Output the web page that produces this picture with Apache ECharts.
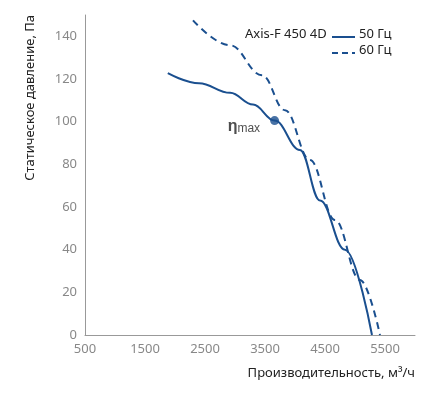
<!DOCTYPE html>
<html><head><meta charset="utf-8">
<script src="https://cdn.jsdelivr.net/npm/echarts@6/dist/echarts.min.js"></script>
<style>html,body{margin:0;padding:0;background:#fff}#c{width:444px;height:403px}</style>
</head><body><div id="c"></div>
<script>
const s50 = [[1880,122.7],[2400,118],[2920,113.5],[3300,108],[3660,100.5],[4083,86.7],[4417,63],[4833,40],[5283,0]];
const s60 = [[2300,147.5],[2917,135.8],[3450,121.8],[3833,105.4],[4250,82],[4667,53.9],[5083,25.8],[5417,0]];
const etaPoint = [[3660,100.5]];
const names = ['50 Гц','60 Гц'];
const color = '#1a4f8f';
const font = '13px Noto Sans';
const ch = echarts.init(document.getElementById('c'));
ch.setOption({
  animation:false,
  grid:{left:85,right:29,top:15,bottom:68,containLabel:false,outerBoundsMode:'none'},
  graphic:[
    {type:'text',left:245,top:28,style:{text:'Axis-F 450 4D',font,fill:'#222'}},
    {type:'line',shape:{x1:332,y1:37,x2:355,y2:37},style:{stroke:color,lineWidth:2}},
    {type:'text',left:359,top:28,style:{text:names[0],font,fill:'#222'}},
    {type:'line',shape:{x1:332,y1:53,x2:355,y2:53},style:{stroke:color,lineWidth:2,lineDash:[6,4]}},
    {type:'text',left:359,top:44,style:{text:names[1],font,fill:'#222'}}
  ],
  xAxis:{type:'value',min:500,max:6000,interval:1000,
    name:'Производительность, м³/ч',nameLocation:'end',nameGap:0,
    nameTextStyle:{fontFamily:'Noto Sans',fontSize:13,color:'#222',align:'right',verticalAlign:'top',padding:[32,0,0,0]},
    axisLine:{lineStyle:{color:'#999'}},axisTick:{show:false},splitLine:{show:false},
    axisLabel:{showMaxLabel:false,color:'#888',fontFamily:'Noto Sans',fontSize:13,formatter:v=>String(v)}},
  yAxis:{type:'value',min:0,max:150,interval:20,
    name:'Статическое давление, Па',nameLocation:'end',nameRotate:90,nameGap:0,
    nameTextStyle:{fontFamily:'Noto Sans',fontSize:13,color:'#222',align:'right',verticalAlign:'bottom',padding:[0,0,48,0]},
    axisLine:{show:true,lineStyle:{color:'#999'}},axisTick:{show:false},splitLine:{show:false},
    axisLabel:{showMaxLabel:false,color:'#888',fontFamily:'Noto Sans',fontSize:13}},
  series:[
    {name:names[0],type:'line',smooth:0.4,smoothMonotone:'x',showSymbol:false,data:s50,lineStyle:{color,width:2}},
    {name:names[1],type:'line',smooth:0.4,smoothMonotone:'x',showSymbol:false,data:s60,lineStyle:{color,width:2,type:[7,5]}},
    {type:'scatter',data:etaPoint,symbolSize:9,itemStyle:{color},
     label:{show:true,position:'left',distance:10,offset:[0,6],
       formatter:'{a|η}{b|max}',rich:{a:{fontSize:16,fontWeight:'bold',color:'#222'},b:{fontSize:12,color:'#222',padding:[4,0,0,0]}}}}
  ]
});
</script></body></html>
